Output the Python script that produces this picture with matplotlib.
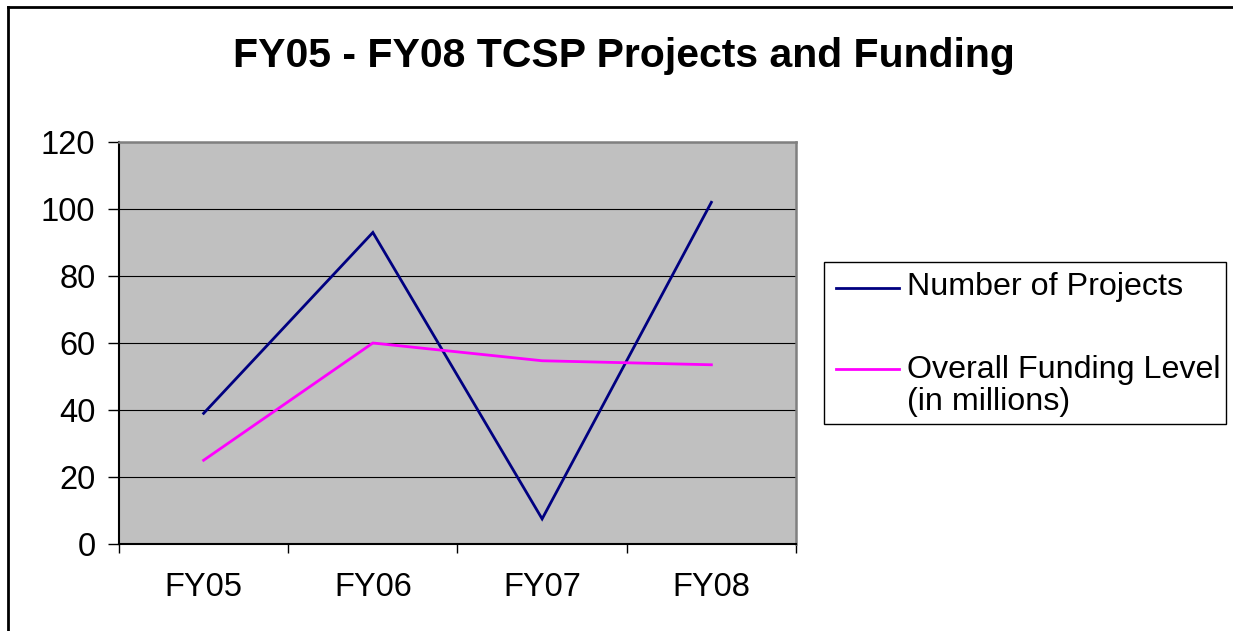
import matplotlib

matplotlib.use("Agg")
import matplotlib.pyplot as plt
from matplotlib.lines import Line2D

# datos
categorias = ["FY05", "FY06", "FY07", "FY08"]
num_proyectos = [39, 93, 7.5, 102]
financiamiento = [25, 60, 54.7, 53.5]  # en millones
titulo = "FY05 - FY08 TCSP Projects and Funding"
etiquetas = ["Number of Projects", "Overall Funding Level", "(in millions)"]

AZUL = "#000080"
MAGENTA = "#FF00FF"

plt.rcParams["font.family"] = ["Liberation Sans", "DejaVu Sans"]

W, H = 1233, 631
fig = plt.figure(figsize=(W / 100, H / 100), dpi=100)
fig.patch.set_facecolor("white")

# área de trazado en píxeles: x 119-796, y 142-544
ax = fig.add_axes([119 / W, 1 - 544 / H, (796 - 119) / W, (544 - 142) / H])
ax.set_facecolor("#C0C0C0")

x = list(range(len(categorias)))
ax.plot(x, num_proyectos, color=AZUL, lw=2.0, solid_joinstyle="miter", zorder=3)
ax.plot(x, financiamiento, color=MAGENTA, lw=2.0, solid_joinstyle="miter", zorder=3)

ax.set_xlim(-0.5, len(categorias) - 0.5)
ax.set_ylim(0, 120)
ax.set_yticks(range(0, 121, 20))
ax.yaxis.grid(True, color="black", lw=0.8)
ax.set_axisbelow(True)

# ticks mayores entre categorías, etiquetas en los menores (centro)
ax.set_xticks([i - 0.5 for i in range(len(categorias) + 1)])
ax.set_xticklabels([])
ax.set_xticks(x, minor=True)
ax.set_xticklabels(categorias, minor=True, fontsize=23.5)
ax.tick_params(axis="x", which="major", direction="out", length=6.5, width=1, color="black")
ax.tick_params(axis="x", which="minor", length=0, pad=20)
ax.tick_params(axis="y", direction="out", length=8, width=1, color="black",
               labelsize=23.5, pad=9)

for lado in ("left", "bottom"):
    ax.spines[lado].set_color("black")
    ax.spines[lado].set_linewidth(1.5)
for lado in ("top", "right"):
    ax.spines[lado].set_color("#808080")
    ax.spines[lado].set_linewidth(1.8)

fig.text(624 / W, 1 - 56 / H, titulo, ha="center", va="center",
         fontsize=29.5, fontweight="bold")

# leyenda dibujada a mano (el handle va alineado con la primera línea)
def fx(px):
    return px / W


def fy(py):
    return 1 - py / H


caja = plt.Rectangle((fx(824), fy(424)), fx(1226) - fx(824), fy(262) - fy(424),
                     transform=fig.transFigure, facecolor="white",
                     edgecolor="black", lw=1)
fig.add_artist(caja)
fig.add_artist(Line2D([fx(836), fx(899)], [fy(288), fy(288)], color=AZUL, lw=2.0))
fig.add_artist(Line2D([fx(836), fx(899)], [fy(369), fy(369)], color=MAGENTA, lw=2.0))
fig.text(fx(907), fy(295), etiquetas[0], ha="left", va="baseline", fontsize=23.2)
fig.text(fx(907), fy(378), etiquetas[1], ha="left", va="baseline", fontsize=23.2)
fig.text(fx(907), fy(410), etiquetas[2], ha="left", va="baseline", fontsize=23.2)

# borde exterior del gráfico (solo arriba e izquierda quedan visibles)
fig.add_artist(Line2D([fx(8), fx(8)], [fy(7), 0], color="black", lw=2))
fig.add_artist(Line2D([fx(8), 1], [fy(7), fy(7)], color="black", lw=2))

fig.savefig("out.png", dpi=100, facecolor="white")
